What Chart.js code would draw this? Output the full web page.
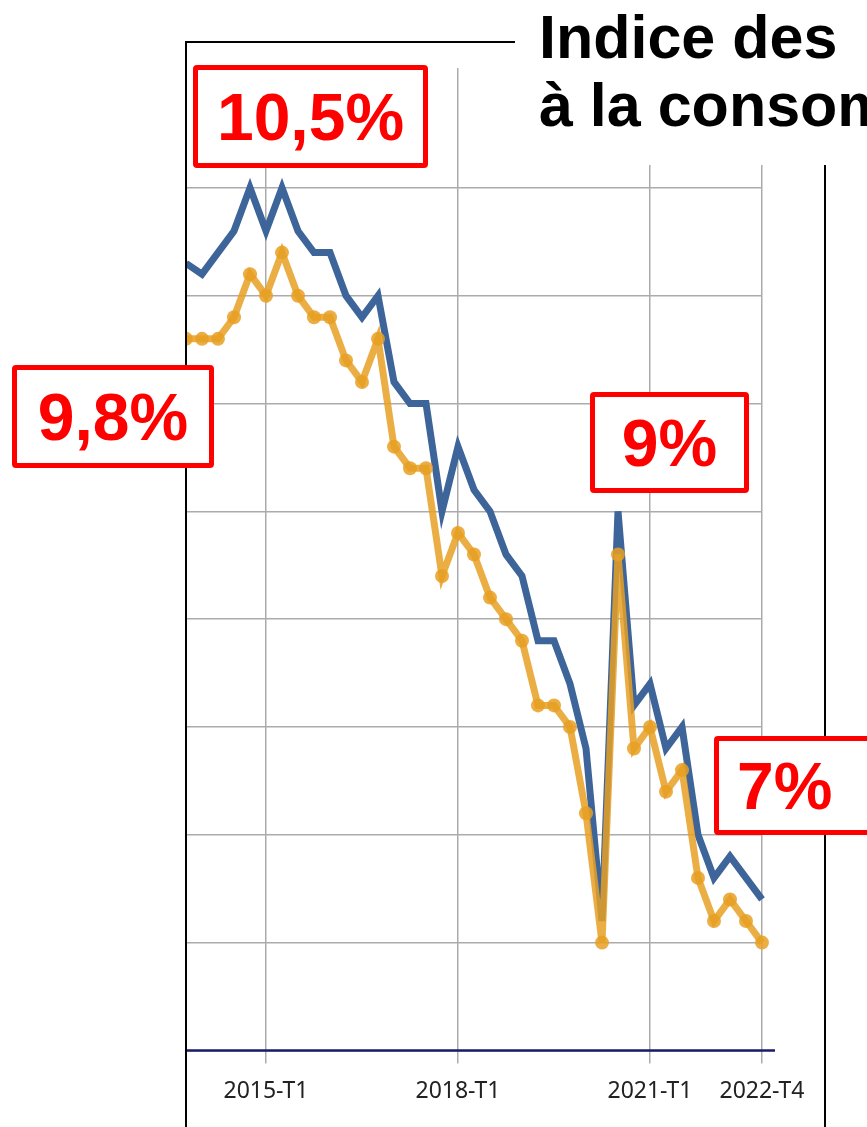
<!DOCTYPE html>
<html>
<head>
<meta charset="utf-8">
<script src="https://cdn.jsdelivr.net/npm/chart.js@4.4.1/dist/chart.umd.min.js"></script>
<style>
  html, body { margin: 0; padding: 0; background: #fff; }
  body { width: 867px; height: 1127px; position: relative; overflow: hidden; }
  #chart { position: absolute; left: 0; top: 0; z-index: 1; }
  .frame {
    position: absolute; left: 185px; top: 41px; width: 637px; height: 1200px;
    border: 2px solid #000; border-bottom: none; z-index: 2;
  }
  .title {
    position: absolute; left: 515px; top: 0; width: 352px; height: 162px;
    background: #fff; z-index: 3; overflow: hidden; white-space: nowrap;
    font-family: "Liberation Sans", Arial, sans-serif; font-weight: bold;
    font-size: 61px; line-height: 68px; color: #000;
  }
  .title div { padding-left: 24px; }
  .tag {
    position: absolute; z-index: 4; background: #fff; box-sizing: border-box;
    border: 5px solid #ff0000; border-radius: 4px; color: #ff0000;
    font-family: "Liberation Sans", Arial, sans-serif; font-weight: bold; font-size: 66px;
    display: flex; align-items: center; justify-content: center;
  }
</style>
</head>
<body>
<canvas id="chart" width="867" height="1127"></canvas>
<div class="frame"></div>
<div class="title" style="padding-top: 3px;"><div>Indice des</div><div>à la consommation</div></div>
<div class="tag" style="left:193px; top:65px; width:235px; height:103px;">10,5%</div>
<div class="tag" style="left:12px; top:365px; width:202px; height:103px;">9,8%</div>
<div class="tag" style="left:590px; top:392px; width:159px; height:101px;">9%</div>
<div class="tag" style="left:714px; top:736px; width:190px; height:99px; justify-content:flex-start; padding-left:18px;">7%</div>
<script>
// trimestres
const quarters = [
  "2013-T4",
  "2014-T1", "2014-T2", "2014-T3", "2014-T4",
  "2015-T1", "2015-T2", "2015-T3", "2015-T4",
  "2016-T1", "2016-T2", "2016-T3", "2016-T4",
  "2017-T1", "2017-T2", "2017-T3", "2017-T4",
  "2018-T1", "2018-T2", "2018-T3", "2018-T4",
  "2019-T1", "2019-T2", "2019-T3", "2019-T4",
  "2020-T1", "2020-T2", "2020-T3", "2020-T4",
  "2021-T1", "2021-T2", "2021-T3", "2021-T4",
  "2022-T1", "2022-T2", "2022-T3", "2022-T4"
];
const shownTicks = ["2015-T1", "2018-T1", "2021-T1", "2022-T4"];

// series (%)
const blueValues = [
  10.15, 10.1, 10.2, 10.3, 10.5, 10.3, 10.5, 10.3, 10.2, 10.2,
  10.0, 9.9, 10.0, 9.6, 9.5, 9.5, 9.0, 9.3, 9.1, 9.0,
  8.8, 8.7, 8.4, 8.4, 8.2, 7.9, 7.1, 9.0, 8.1, 8.2,
  7.9, 8.0, 7.5, 7.3, 7.4, 7.3, 7.2
];
const orangeValues = [
  9.8, 9.8, 9.8, 9.9, 10.1, 10.0, 10.2, 10.0, 9.9, 9.9,
  9.7, 9.6, 9.8, 9.3, 9.2, 9.2, 8.7, 8.9, 8.8, 8.6,
  8.5, 8.4, 8.1, 8.1, 8.0, 7.6, 7.0, 8.8, 7.9, 8.0,
  7.7, 7.8, 7.3, 7.1, 7.2, 7.1, 7.0
];

const yMin = 6.5;
const yMax = 11.056;
const yStep = 0.5;

const gridColor = "#ababab";

// axe du bas, un peu plus long que la zone du graphique
const axisLine = {
  id: "axisLine",
  afterDatasetsDraw(chart) {
    const { ctx, chartArea } = chart;
    ctx.save();
    ctx.strokeStyle = "#1b1b6b";
    ctx.lineWidth = 2.5;
    ctx.beginPath();
    ctx.moveTo(chartArea.left, chartArea.bottom);
    ctx.lineTo(chartArea.right + 13, chartArea.bottom);
    ctx.stroke();
    ctx.restore();
  }
};

new Chart(document.getElementById("chart").getContext("2d"), {
  type: "line",
  data: {
    labels: quarters,
    datasets: [
      {
        label: "orange",
        data: orangeValues,
        order: 0,
        borderColor: "rgba(232,160,35,0.85)",
        backgroundColor: "rgba(232,160,35,0.85)",
        borderWidth: 7,
        pointRadius: 7,
        pointBorderWidth: 0,
        pointBackgroundColor: "rgba(232,160,35,0.85)",
        tension: 0,
        clip: { left: 0, top: 20, right: 20, bottom: 20 }
      },
      {
        label: "bleu",
        data: blueValues,
        order: 1,
        borderColor: "#3d6599",
        borderWidth: 7,
        pointRadius: 0,
        tension: 0,
        clip: { left: 0, top: 20, right: 20, bottom: 20 }
      }
    ]
  },
  options: {
    responsive: false,
    animation: false,
    devicePixelRatio: 1,
    layout: { padding: { left: 186, right: 105, top: 68, bottom: 8 } },
    plugins: { legend: { display: false }, tooltip: { enabled: false } },
    scales: {
      x: {
        offset: false,
        border: { display: false },
        grid: {
          offset: false,
          tickLength: 13,
          lineWidth: 1.5,
          color: (ctx) => shownTicks.includes(quarters[ctx.index]) ? gridColor : "rgba(0,0,0,0)"
        },
        ticks: {
          autoSkip: false,
          maxRotation: 0,
          padding: 14,
          color: "#222",
          font: { family: "'Noto Sans', sans-serif", size: 23 },
          callback: function (value) {
            const l = this.getLabelForValue(value);
            return shownTicks.includes(l) ? l : "";
          }
        }
      },
      y: {
        min: yMin,
        max: yMax,
        border: { display: false },
        grid: { drawTicks: false, lineWidth: 1.5, color: gridColor },
        ticks: { display: false, stepSize: yStep },
        afterBuildTicks: (scale) => {
          scale.ticks = scale.ticks.filter((t) => Math.abs(t.value / yStep - Math.round(t.value / yStep)) < 1e-6);
        }
      }
    }
  },
  plugins: [axisLine]
});
</script>
</body>
</html>
